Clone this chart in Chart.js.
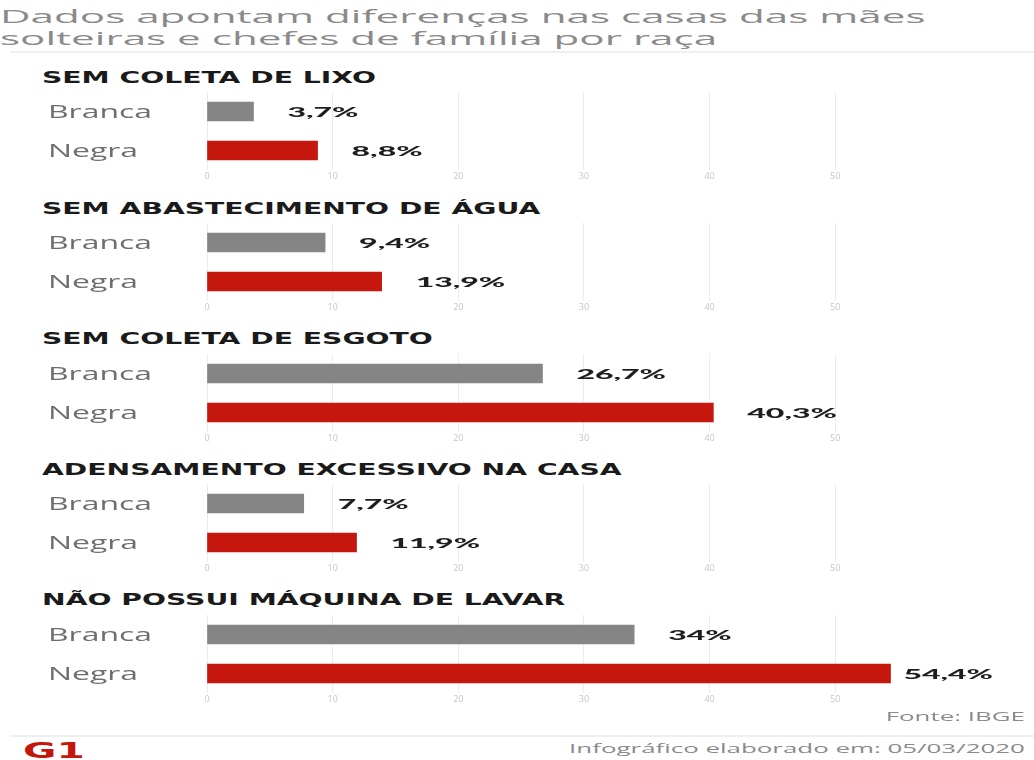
<!DOCTYPE html>
<html lang="pt-BR">
<head>
<meta charset="utf-8">
<script src="https://cdn.jsdelivr.net/npm/chart.js@4.4.0/dist/chart.umd.min.js"></script>
<style>
  body { margin: 0; width: 1034px; height: 760px; background: #fff; position: relative; overflow: hidden; font-family: "Open Sans", sans-serif; }
  .abs { position: absolute; white-space: nowrap; }
  .titulo { left: 0; color: #8a8a8a; font-size: 19px; line-height: 22px; transform-origin: left center; }
  .secao { left: 42px; font-family: "DejaVu Sans", sans-serif; font-weight: bold; font-size: 15px; line-height: 20px; color: #1a1a1a; transform-origin: left center; }
  .rodape { right: 9px; color: #8a8a8a; font-size: 13px; line-height: 18px; transform-origin: right center; }
  .logo { left: 23px; font-family: "DejaVu Sans", sans-serif; font-weight: bold; font-size: 21px; line-height: 22px; color: #c4170c; transform-origin: left center; }
  .linha { position: absolute; height: 2px; background: #efefef; }
  canvas { position: absolute; left: 0; }
</style>
</head>
<body>
<script>
// textos
const titulo = ['Dados apontam diferenças nas casas das mães', 'solteiras e chefes de família por raça'];
const secoes = [
  'SEM COLETA DE LIXO',
  'SEM ABASTECIMENTO DE ÁGUA',
  'SEM COLETA DE ESGOTO',
  'ADENSAMENTO EXCESSIVO NA CASA',
  'NÃO POSSUI MÁQUINA DE LAVAR'
];
const grupos = ['Branca', 'Negra'];

// valores em %
const branca = [3.7, 9.4, 26.7, 7.7, 34];
const negra = [8.8, 13.9, 40.3, 11.9, 54.4];
const ticksX = [0, 10, 20, 30, 40, 50];

const fonte = 'Fonte: IBGE';
const elaborado = 'Infográfico elaborado em: 05/03/2020';

const cores = ['#858585', '#c5170e'];

function formatar(v) {
  return v.toLocaleString('pt-BR') + '%';
}

function criarTexto(txt, classe, top) {
  const el = document.createElement('div');
  el.className = 'abs ' + classe;
  el.style.top = top + 'px';
  el.textContent = txt;
  document.body.appendChild(el);
  return el;
}

// o infográfico original é bem "esticado" na horizontal
function esticar(els, largura) {
  const f = largura / els[0].offsetWidth;
  els.forEach(el => el.style.transform = `scaleX(${f})`);
}

function linha(top, left) {
  const el = document.createElement('div');
  el.className = 'linha';
  el.style.top = top + 'px';
  el.style.left = left + 'px';
  el.style.right = '0px';
  document.body.appendChild(el);
}

function desenharEsticado(ctx, txt, x, y, f) {
  ctx.save();
  ctx.translate(x, y);
  ctx.scale(f, 1);
  ctx.fillText(txt, 0, 0);
  ctx.restore();
}

const rotulos = {
  id: 'rotulos',
  afterDatasetsDraw(chart) {
    const ctx = chart.ctx;
    const escalaY = chart.scales.y;
    ctx.save();
    ctx.textBaseline = 'middle';
    ctx.textAlign = 'left';

    // Branca / Negra
    ctx.font = '18px "Open Sans"';
    ctx.fillStyle = '#6e6e6e';
    const fNome = 104 / ctx.measureText('Branca').width;
    chart.data.labels.forEach((nome, i) => {
      desenharEsticado(ctx, nome, 48, escalaY.getPixelForValue(i) + 1, fNome);
    });

    // valores no fim das barras
    ctx.font = '900 14px Lato';
    ctx.fillStyle = '#1e1e1e';
    const fValor = 71 / ctx.measureText('3,7%').width;
    const meta = chart.getDatasetMeta(0);
    meta.data.forEach((barra, i) => {
      const txt = formatar(chart.data.datasets[0].data[i]);
      const w = ctx.measureText(txt).width * fValor;
      const x = Math.min(barra.x + 34, chart.width - 41 - w);
      desenharEsticado(ctx, txt, x, barra.y + 1, fValor);
    });
    ctx.restore();
  }
};

// cabeçalho
const t1 = criarTexto(titulo[0], 'titulo', 5);
const t2 = criarTexto(titulo[1], 'titulo', 27);
esticar([t1, t2], 925);
linha(51, 10);

// um gráfico por item
const cabecalhos = [];
secoes.forEach((nome, i) => {
  const topo = 92 + i * 130.8;
  cabecalhos.push(criarTexto(nome, 'secao', 68 + i * 130.5));

  const canvas = document.createElement('canvas');
  canvas.width = 1034;
  canvas.height = 98;
  canvas.style.top = topo + 'px';
  document.body.appendChild(canvas);

  new Chart(canvas, {
    type: 'bar',
    data: {
      labels: grupos,
      datasets: [{
        data: [branca[i], negra[i]],
        backgroundColor: cores,
        barThickness: 19
      }]
    },
    options: {
      indexAxis: 'y',
      responsive: false,
      animation: false,
      layout: { padding: { left: 48, right: 48, top: 0, bottom: 0 } },
      plugins: { legend: { display: false }, tooltip: { enabled: false } },
      scales: {
        x: {
          min: 0,
          max: 62,
          afterBuildTicks: s => { s.ticks = ticksX.map(v => ({ value: v })); },
          afterFit: s => { s.height = 20; },
          grid: { color: '#ececec', drawTicks: false },
          border: { display: false },
          ticks: { color: '#c6c6c6', font: { size: 9, family: 'Open Sans' }, padding: 1 }
        },
        y: {
          afterFit: s => { s.width = 159; },
          grid: { display: false },
          border: { display: false },
          ticks: { display: false }
        }
      }
    },
    plugins: [rotulos]
  });
});
esticar(cabecalhos, 335);

// rodapé
const r1 = criarTexto(fonte, 'rodape', 707);
const r2 = criarTexto(elaborado, 'rodape', 739);
esticar([r2, r1], 456);
linha(735, 10);
const g1 = criarTexto('G1', 'logo', 740);
esticar([g1], 62);
</script>
</body>
</html>
